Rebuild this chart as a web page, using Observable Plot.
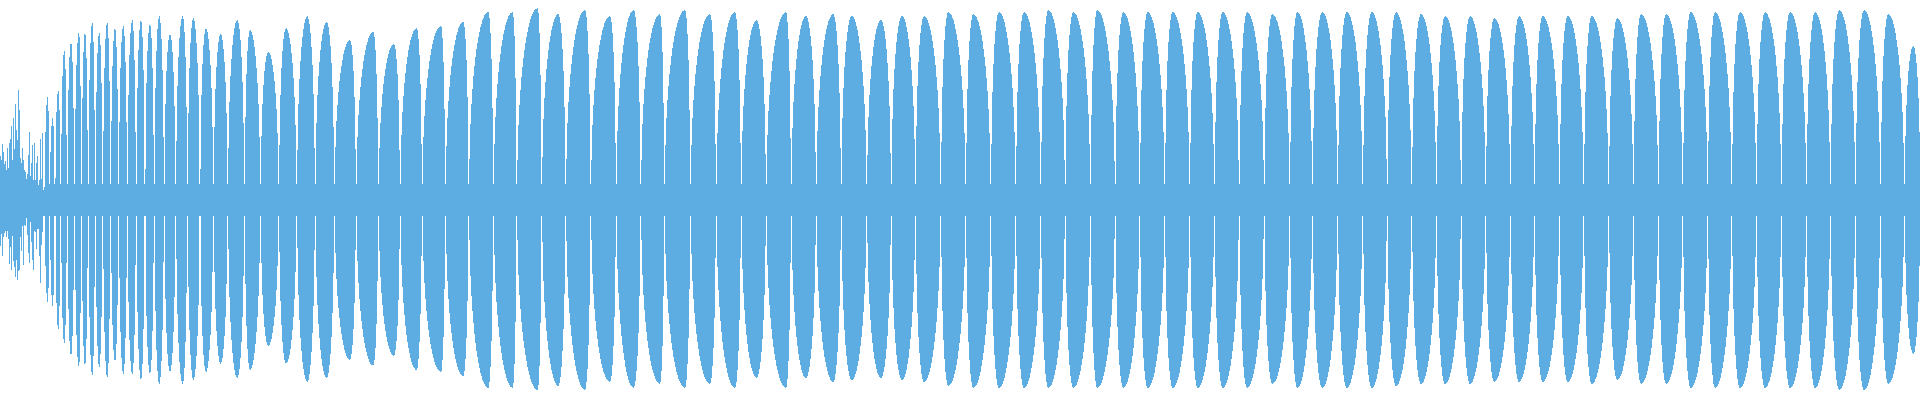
<!DOCTYPE html>
<html><head><meta charset="utf-8">
<script src="https://cdn.jsdelivr.net/npm/d3@7"></script>
<script src="https://cdn.jsdelivr.net/npm/@observablehq/plot@0.6"></script>
<style>html,body{margin:0;padding:0;background:#fff;overflow:hidden}</style>
</head><body><div id="chart"></div>
<script>
// ---- data (x in samples, amplitude in full-scale units) ----
const waveColor = "#5dade2";
const troughLevel = 0.08;
const xEnd = 1920;

// irregular onset (spikes), top and bottom envelopes
const noiseTopX = [0,1.5,2.3,3,3.3,4.5,5.7,6.5,7.3,8.5,10.3,10.8,11.3,12.5,13.7,14.5,15.3,16,17,17.7,18.3,19.3,20,21,22,23,23.7,24.3,25.7,27,28.7,29.7,30.3,31,32.7,33.5,34.7,35.5,36,37.3,38.3,39.3,40.7,41.5,42.3,43,43.7,45];
const noiseTopV = [0.23,0.20,0.31,0.21,0.25,0.18,0.20,0.15,0.28,0.16,0.38,0.20,0.41,0.20,0.45,0.25,0.58,0.25,0.45,0.25,0.55,0.56,0.18,0.24,0.13,0.39,0.13,0.15,0.14,0.08,0.24,0.36,0.11,0.14,0.29,0.10,0.32,0.10,0.14,0.26,0.08,0.06,0.34,0.10,0.44,0.08,0.04,0.08];
const noiseBottomX = [0,0.7,1.7,2.7,3.3,4,5,6.7,8,10,10.8,11.7,12.5,13.3,14.2,15,16,17.3,18.2,19,20,21.7,22.5,23.3,24.2,25,26.5,28.3,29.3,30.5,32.3,33.7,34.7,35.7,36.7,38,40.7,41.3,41.7,43,45];
const noiseBottomV = [-0.23,-0.23,-0.16,-0.31,-0.18,-0.19,-0.14,-0.19,-0.13,-0.38,-0.15,-0.40,-0.18,-0.34,-0.18,-0.58,-0.20,-0.45,-0.23,-0.56,-0.15,-0.27,-0.13,-0.39,-0.11,-0.15,-0.09,-0.24,-0.36,-0.11,-0.29,-0.36,-0.11,-0.17,-0.26,-0.08,-0.44,-0.15,-0.29,-0.08,-0.08];

// beating lobes: start of each lobe, position of its crest, crest amplitude above and below
const lobeStart = [45,50.2,55.5,61.3,67.7,75,82,88.7,95.8,103.3,111.2,119.2,127.8,136.7,145.5,154.7,164.7,176.3,188,
  200.5,214,228.3,245,261,279.3,297.3,315.7,335,356.7,379,
  400.7,422.7,446,469.3,494,517.3,542.3,566.3,591.3,616.7,
  641.3,665,691,716.7,741.7,766.7,791.7,816.7,841.7,867.3,891.7,
  916,941.3,966.3,991.3,1016.3,1041.3,1065.7,1091,
  1115.7,1140.3,1165.3,1190.3,1215,1239.7,1264.7,1290.3,
  1313,1338.3,1363.3,1387.7,1412.3,1437,1461.7,1486.3,1511,
  1535,1560,1584.3,1609.3,1634,1659,1683.3,1708.3,
  1732.3,1757,1782,1807,1831,1856,1881,1905];
const lobePeak = [47.7,52.7,58.3,64.3,71,79,85,92.3,99.3,107.3,115,123.3,132.3,141,150,159.3,170,182.7,193.3,
  206,220.7,237.3,250,268.3,286,307.3,326.7,350,373.3,394,
  416.7,441,463.3,488.3,512.7,537.7,558.3,585,610,633.7,
  660,685,710,735,756.7,786,806,833.3,851.7,881,902,
  924,948.3,973.3,999,1024,1048.3,1073.3,1097.3,
  1123.3,1147.7,1172.7,1197.7,1222.7,1247,1272.3,1297.3,
  1322.3,1346.7,1371.7,1396,1421,1445,1470,1494.3,1519,
  1542.7,1567.7,1591.7,1617.3,1641,1666,1690.7,1715,
  1740,1765,1790,1815,1839.3,1864,1888.3,1913.3];
const lobeTop = [0.52,0.41,0.55,0.75,0.79,0.84,0.84,0.89,0.84,0.89,0.86,0.87,0.90,0.90,0.88,0.92,0.83,0.92,0.91,
  0.86,0.83,0.90,0.85,0.74,0.86,0.92,0.89,0.80,0.84,0.78,
  0.86,0.87,0.89,0.94,0.94,0.96,0.93,0.95,0.92,0.95,
  0.93,0.95,0.93,0.94,0.90,0.94,0.92,0.93,0.92,0.90,0.92,
  0.92,0.94,0.93,0.94,0.94,0.95,0.94,0.95,
  0.94,0.94,0.94,0.94,0.94,0.94,0.93,0.94,
  0.94,0.94,0.94,0.94,0.93,0.92,0.92,0.91,0.92,
  0.92,0.92,0.92,0.91,0.93,0.93,0.94,0.94,
  0.94,0.94,0.94,0.94,0.95,0.95,0.93,0.77];
const lobeBottom = [-0.51,-0.53,-0.65,-0.72,-0.78,-0.84,-0.83,-0.88,-0.84,-0.89,-0.81,-0.87,-0.87,-0.90,-0.87,-0.92,-0.86,-0.92,-0.90,
  -0.86,-0.82,-0.89,-0.85,-0.73,-0.82,-0.91,-0.89,-0.80,-0.83,-0.78,
  -0.85,-0.86,-0.88,-0.94,-0.94,-0.95,-0.93,-0.95,-0.91,-0.94,
  -0.92,-0.94,-0.92,-0.94,-0.89,-0.94,-0.89,-0.91,-0.90,-0.89,-0.90,
  -0.91,-0.93,-0.94,-0.94,-0.94,-0.94,-0.94,-0.94,
  -0.94,-0.94,-0.94,-0.94,-0.94,-0.94,-0.92,-0.94,
  -0.94,-0.94,-0.94,-0.93,-0.92,-0.92,-0.92,-0.91,-0.91,
  -0.91,-0.91,-0.92,-0.90,-0.92,-0.92,-0.94,-0.94,
  -0.94,-0.94,-0.94,-0.94,-0.95,-0.95,-0.92,-0.77];

// ---- tables built from the arrays ----
const slit = 1; // width (in samples) of the dip between two lobes
const noiseTop = noiseTopX.map((t, i) => ({t, v: noiseTopV[i]}));
const noiseBottom = noiseBottomX.map((t, i) => ({t, v: noiseBottomV[i]}));
const envelope = [];
lobeStart.forEach((s, i) => {
  const end = i < lobeStart.length - 1 ? lobeStart[i + 1] - slit : xEnd;
  envelope.push({t: s, top: troughLevel, bottom: -troughLevel});
  envelope.push({t: lobePeak[i], top: lobeTop[i], bottom: lobeBottom[i]});
  envelope.push({t: end, top: troughLevel, bottom: -troughLevel});
});

// curve joining trough / crest points with quarter-ellipse arcs (crest = farther from the zero line)
const H = 400, CY = H / 2;
function lobeCurve(context) {
  const K = 0.55;
  return {
    areaStart() { this._line = 0; },
    areaEnd() { this._line = NaN; },
    lineStart() { this._i = 0; },
    lineEnd() {
      if (this._line || (this._line !== 0 && this._i === 1)) context.closePath();
      this._line = 1 - this._line;
    },
    point(x, y) {
      x = +x; y = +y;
      if (this._i === 0) {
        this._line ? context.lineTo(x, y) : context.moveTo(x, y);
      } else {
        const x0 = this._x, y0 = this._y;
        const d0 = Math.abs(y0 - CY), d1 = Math.abs(y - CY);
        if (Math.abs(d1 - d0) < 0.5) {
          context.lineTo(x, y);
        } else {
          const toPeak = d1 > d0;
          const tx = toPeak ? x0 : x, ty = toPeak ? y0 : y;
          const px = toPeak ? x : x0, py = toPeak ? y : y0;
          const cT = [tx, ty + K * (py - ty)];
          const cP = [px + K * (tx - px), py];
          if (toPeak) context.bezierCurveTo(cT[0], cT[1], cP[0], cP[1], x, y);
          else context.bezierCurveTo(cP[0], cP[1], cT[0], cT[1], x, y);
        }
      }
      this._x = x; this._y = y; this._i++;
    }
  };
}

const chart = Plot.plot({
  width: 1920,
  height: H,
  margin: 0,
  x: {domain: [0, xEnd], axis: null},
  y: {domain: [-1, 1], axis: null},
  marks: [
    Plot.areaY(noiseTop, {x: "t", y1: 0, y2: "v", fill: waveColor, shapeRendering: "crispEdges"}),
    Plot.areaY(noiseBottom, {x: "t", y1: 0, y2: "v", fill: waveColor, shapeRendering: "crispEdges"}),
    Plot.areaY(envelope, {x: "t", y1: "bottom", y2: "top", fill: waveColor, curve: lobeCurve, shapeRendering: "crispEdges"})
  ]
});
document.getElementById("chart").append(chart);
</script>
</body></html>
